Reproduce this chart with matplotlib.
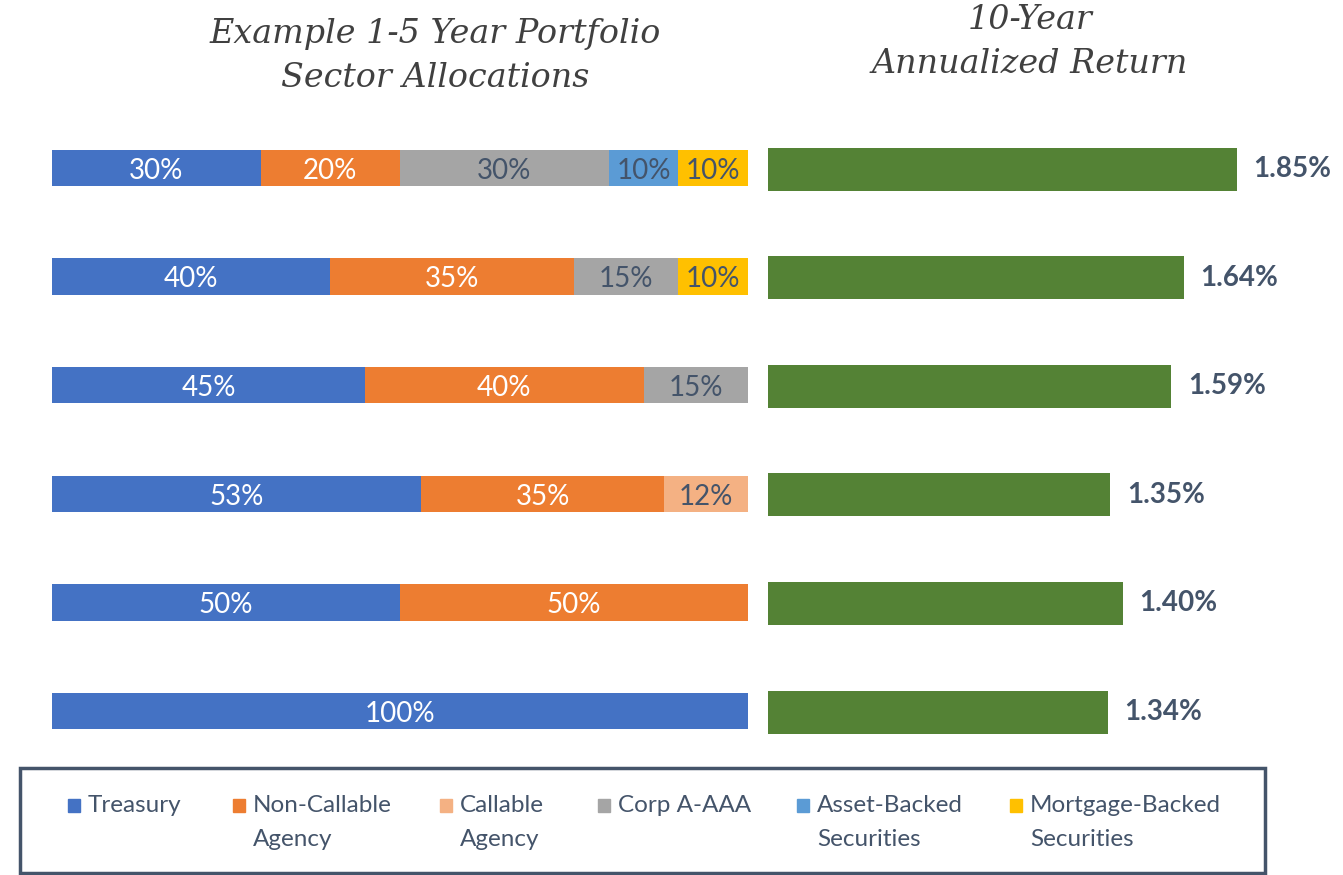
import numpy as np
import matplotlib
matplotlib.use("Agg")
import matplotlib.pyplot as plt
from matplotlib.patches import Rectangle

# portfolio rows, top to bottom
sectors = ["Treasury", "Non-Callable\nAgency", "Callable\nAgency", "Corp A-AAA",
           "Asset-Backed\nSecurities", "Mortgage-Backed\nSecurities"]
treasury = [30, 40, 45, 53, 50, 100]
non_callable = [20, 35, 40, 35, 50, 0]
callable_agency = [0, 0, 0, 12, 0, 0]
corp = [30, 15, 15, 0, 0, 0]
asset_backed = [10, 0, 0, 0, 0, 0]
mortgage_backed = [10, 10, 0, 0, 0, 0]
returns = [1.85, 1.64, 1.59, 1.35, 1.40, 1.34]

colors = ["#4472C4", "#ED7D31", "#F4B183", "#A5A5A5", "#5B9BD5", "#FFC000"]
label_colors = ["white", "white", "#44546A", "#44546A", "#44546A", "#44546A"]
green = "#548235"
dark = "#44546A"

plt.rcParams["font.family"] = ["Lato", "DejaVu Sans"]

W, H = 1343, 875
fig = plt.figure(figsize=(W / 100, H / 100), dpi=100)

rows = np.arange(len(treasury))
ax_bot = (H - 765.3) / H
ax_h = 651.6 / H

# left: stacked allocations
ax1 = fig.add_axes([52 / W, ax_bot, 696 / W, ax_h])
series = [treasury, non_callable, callable_agency, corp, asset_backed, mortgage_backed]
left = np.zeros(len(rows))
for vals, c, lc in zip(series, colors, label_colors):
    vals = np.array(vals, dtype=float)
    bars = ax1.barh(rows, vals, left=left, height=0.335, color=c)
    labs = [f"{v:.0f}%" if v > 0 else "" for v in vals]
    texts = ax1.bar_label(bars, labels=labs, label_type="center", color=lc, fontsize=20)
    for t in texts:
        t.xyann = (0, -2)   # nudge down a little
    left += vals
ax1.set_xlim(0, 100)
ax1.set_ylim(5.5, -0.5)
ax1.axis("off")

# right: returns
ax2 = fig.add_axes([768 / W, ax_bot, 2.2 * 253.5 / W, ax_h])
bars = ax2.barh(rows + 0.01, returns, height=0.395, color=green)
ax2.bar_label(bars, labels=[f"{r:.2f}%" for r in returns], padding=12,
              color=dark, fontsize=20, fontweight="bold")
ax2.set_xlim(0, 2.2)
ax2.set_ylim(5.5, -0.5)
ax2.axis("off")

# titles
tfont = dict(family="DejaVu Serif", style="italic", color="#404040", fontsize=24,
             ha="center", va="center", linespacing=1.45)
fig.text(435 / W, 1 - 56 / H, "Example 1-5 Year Portfolio\nSector Allocations", **tfont)
fig.text(1030 / W, 1 - 42 / H, "10-Year\nAnnualized Return", **tfont)

# legend box
fig.add_artist(Rectangle((20 / W, 1 - 873 / H), 1245 / W, 105 / H,
                         transform=fig.transFigure, facecolor="white",
                         edgecolor=dark, lw=2.5))
marker_x = [68, 233, 440, 598, 797, 1010]
for name, c, mx in zip(sectors, colors, marker_x):
    fig.add_artist(Rectangle((mx / W, 1 - 812 / H), 12 / W, 13 / H,
                             transform=fig.transFigure, color=c))
    fig.text((mx + 20) / W, 1 - 795 / H, name, ha="left", va="top",
             fontsize=17.5, color=dark, linespacing=1.75)

fig.savefig("out.png", dpi=100)
